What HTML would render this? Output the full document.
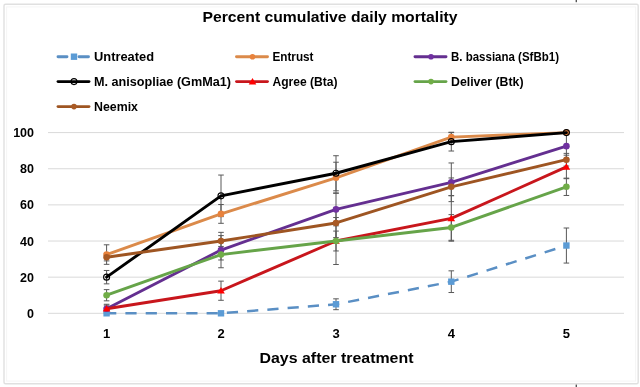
<!DOCTYPE html><html><head><meta charset="utf-8"><style>html,body{margin:0;padding:0;background:#fff;}svg{display:block;filter:blur(0.3px);}text{font-family:"Liberation Sans",sans-serif;font-weight:bold;fill:#000;}</style></head><body>
<svg width="640" height="387" viewBox="0 0 640 387">
<rect x="0" y="0" width="640" height="387" fill="#fff"/>
<rect x="4" y="4.3" width="634.2" height="379.4" fill="none" stroke="#E0E0E0" stroke-width="1.4" rx="1.5"/><rect x="6.6" y="6.9" width="629" height="374.2" fill="none" stroke="#F5F5F5" stroke-width="1"/>
<line x1="48" y1="313.30" x2="624" y2="313.30" stroke="#D9D9D9" stroke-width="1"/>
<line x1="48" y1="277.16" x2="624" y2="277.16" stroke="#D9D9D9" stroke-width="1"/>
<line x1="48" y1="241.02" x2="624" y2="241.02" stroke="#D9D9D9" stroke-width="1"/>
<line x1="48" y1="204.88" x2="624" y2="204.88" stroke="#D9D9D9" stroke-width="1"/>
<line x1="48" y1="168.74" x2="624" y2="168.74" stroke="#D9D9D9" stroke-width="1"/>
<line x1="48" y1="132.60" x2="624" y2="132.60" stroke="#D9D9D9" stroke-width="1"/>
<text x="34" y="317.80" font-size="12.5" text-anchor="end">0</text>
<text x="34" y="281.66" font-size="12.5" text-anchor="end">20</text>
<text x="34" y="245.52" font-size="12.5" text-anchor="end">40</text>
<text x="34" y="209.38" font-size="12.5" text-anchor="end">60</text>
<text x="34" y="173.24" font-size="12.5" text-anchor="end">80</text>
<text x="34" y="137.10" font-size="12.5" text-anchor="end">100</text>
<text x="106.60" y="337.5" font-size="13" text-anchor="middle">1</text>
<text x="221.00" y="337.5" font-size="13" text-anchor="middle">2</text>
<text x="336.00" y="337.5" font-size="13" text-anchor="middle">3</text>
<text x="451.30" y="337.5" font-size="13" text-anchor="middle">4</text>
<text x="566.40" y="337.5" font-size="13" text-anchor="middle">5</text>
<text x="202.5" y="22" font-size="15" textLength="255" lengthAdjust="spacingAndGlyphs">Percent cumulative daily mortality</text>
<text x="259.5" y="363.4" font-size="15" textLength="154" lengthAdjust="spacingAndGlyphs">Days after treatment</text>
<path d="M336.00,298.84V309.69M333.20,298.84H338.80M333.20,309.69H338.80" stroke="#595959" stroke-width="1" fill="none"/>
<path d="M451.30,270.84V292.52M448.50,270.84H454.10M448.50,292.52H454.10" stroke="#595959" stroke-width="1" fill="none"/>
<path d="M566.40,228.01V263.07M563.60,228.01H569.20M563.60,263.07H569.20" stroke="#595959" stroke-width="1" fill="none"/>
<path d="M106.60,244.81V264.33M103.80,244.81H109.40M103.80,264.33H109.40" stroke="#595959" stroke-width="1" fill="none"/>
<path d="M221.00,204.52V223.31M218.20,204.52H223.80M218.20,223.31H223.80" stroke="#595959" stroke-width="1" fill="none"/>
<path d="M336.00,162.23V193.32M333.20,162.23H338.80M333.20,193.32H338.80" stroke="#595959" stroke-width="1" fill="none"/>
<path d="M451.30,132.60V141.64M448.50,132.60H454.10M448.50,141.64H454.10" stroke="#595959" stroke-width="1" fill="none"/>
<path d="M106.60,305.17V312.40M103.80,305.17H109.40M103.80,312.40H109.40" stroke="#595959" stroke-width="1" fill="none"/>
<path d="M221.00,232.35V267.76M218.20,232.35H223.80M218.20,267.76H223.80" stroke="#595959" stroke-width="1" fill="none"/>
<path d="M336.00,192.95V225.84M333.20,192.95H338.80M333.20,225.84H338.80" stroke="#595959" stroke-width="1" fill="none"/>
<path d="M451.30,162.96V201.63M448.50,162.96H454.10M448.50,201.63H454.10" stroke="#595959" stroke-width="1" fill="none"/>
<path d="M566.40,132.96V159.34M563.60,132.96H569.20M563.60,159.34H569.20" stroke="#595959" stroke-width="1" fill="none"/>
<path d="M106.60,270.47V283.85M103.80,270.47H109.40M103.80,283.85H109.40" stroke="#595959" stroke-width="1" fill="none"/>
<path d="M221.00,175.06V216.63M218.20,175.06H223.80M218.20,216.63H223.80" stroke="#595959" stroke-width="1" fill="none"/>
<path d="M336.00,155.73V190.79M333.20,155.73H338.80M333.20,190.79H338.80" stroke="#595959" stroke-width="1" fill="none"/>
<path d="M451.30,132.24V151.03M448.50,132.24H454.10M448.50,151.03H454.10" stroke="#595959" stroke-width="1" fill="none"/>
<path d="M106.60,304.26V313.30M103.80,304.26H109.40M103.80,313.30H109.40" stroke="#595959" stroke-width="1" fill="none"/>
<path d="M221.00,281.14V300.29M218.20,281.14H223.80M218.20,300.29H223.80" stroke="#595959" stroke-width="1" fill="none"/>
<path d="M336.00,217.53V264.51M333.20,217.53H338.80M333.20,264.51H338.80" stroke="#595959" stroke-width="1" fill="none"/>
<path d="M451.30,195.66V241.20M448.50,195.66H454.10M448.50,241.20H454.10" stroke="#595959" stroke-width="1" fill="none"/>
<path d="M566.40,155.19V178.68M563.60,155.19H569.20M563.60,178.68H569.20" stroke="#595959" stroke-width="1" fill="none"/>
<path d="M106.60,289.63V300.83M103.80,289.63H109.40M103.80,300.83H109.40" stroke="#595959" stroke-width="1" fill="none"/>
<path d="M221.00,249.15V259.99M218.20,249.15H223.80M218.20,259.99H223.80" stroke="#595959" stroke-width="1" fill="none"/>
<path d="M336.00,231.08V250.96M333.20,231.08H338.80M333.20,250.96H338.80" stroke="#595959" stroke-width="1" fill="none"/>
<path d="M451.30,214.64V240.30M448.50,214.64H454.10M448.50,240.30H454.10" stroke="#595959" stroke-width="1" fill="none"/>
<path d="M566.40,178.14V195.48M563.60,178.14H569.20M563.60,195.48H569.20" stroke="#595959" stroke-width="1" fill="none"/>
<path d="M106.60,253.67V260.90M103.80,253.67H109.40M103.80,260.90H109.40" stroke="#595959" stroke-width="1" fill="none"/>
<path d="M221.00,235.60V246.44M218.20,235.60H223.80M218.20,246.44H223.80" stroke="#595959" stroke-width="1" fill="none"/>
<path d="M336.00,208.31V237.59M333.20,208.31H338.80M333.20,237.59H338.80" stroke="#595959" stroke-width="1" fill="none"/>
<path d="M451.30,177.96V195.66M448.50,177.96H454.10M448.50,195.66H454.10" stroke="#595959" stroke-width="1" fill="none"/>
<path d="M566.40,153.38V166.03M563.60,153.38H569.20M563.60,166.03H569.20" stroke="#595959" stroke-width="1" fill="none"/>
<polyline points="106.60,313.30 221.00,313.30 336.00,304.26 451.30,281.68 566.40,245.54" fill="none" stroke="#5A8FC4" stroke-width="2.5" stroke-linejoin="round" stroke-dasharray="11.2 9.1" stroke-dashoffset="1.5"/>
<rect x="103.40" y="310.10" width="6.4" height="6.4" fill="#5B9BD5"/>
<rect x="217.80" y="310.10" width="6.4" height="6.4" fill="#5B9BD5"/>
<rect x="332.80" y="301.06" width="6.4" height="6.4" fill="#5B9BD5"/>
<rect x="448.10" y="278.48" width="6.4" height="6.4" fill="#5B9BD5"/>
<rect x="563.20" y="242.34" width="6.4" height="6.4" fill="#5B9BD5"/>
<polyline points="106.60,254.57 221.00,213.91 336.00,177.78 451.30,137.12 566.40,132.60" fill="none" stroke="#DB8A4A" stroke-width="2.9" stroke-linejoin="round" stroke-linecap="round"/>
<circle cx="106.60" cy="254.57" r="3.3" fill="#E8823C"/>
<circle cx="221.00" cy="213.91" r="3.3" fill="#E8823C"/>
<circle cx="336.00" cy="177.78" r="3.3" fill="#E8823C"/>
<circle cx="451.30" cy="137.12" r="3.3" fill="#E8823C"/>
<circle cx="566.40" cy="132.60" r="3.3" fill="#E8823C"/>
<polyline points="106.60,308.78 221.00,250.06 336.00,209.40 451.30,182.29 566.40,146.15" fill="none" stroke="#642F90" stroke-width="2.9" stroke-linejoin="round" stroke-linecap="round"/>
<circle cx="106.60" cy="308.78" r="3.3" fill="#7030A0"/>
<circle cx="221.00" cy="250.06" r="3.3" fill="#7030A0"/>
<circle cx="336.00" cy="209.40" r="3.3" fill="#7030A0"/>
<circle cx="451.30" cy="182.29" r="3.3" fill="#7030A0"/>
<circle cx="566.40" cy="146.15" r="3.3" fill="#7030A0"/>
<polyline points="106.60,277.16 221.00,195.84 336.00,173.26 451.30,141.64 566.40,132.60" fill="none" stroke="#000000" stroke-width="2.9" stroke-linejoin="round" stroke-linecap="round"/>
<circle cx="106.60" cy="277.16" r="3" fill="none" stroke="#000" stroke-width="1.1"/>
<circle cx="221.00" cy="195.84" r="3" fill="none" stroke="#000" stroke-width="1.1"/>
<circle cx="336.00" cy="173.26" r="3" fill="none" stroke="#000" stroke-width="1.1"/>
<circle cx="451.30" cy="141.64" r="3" fill="none" stroke="#000" stroke-width="1.1"/>
<circle cx="566.40" cy="132.60" r="3" fill="none" stroke="#000" stroke-width="1.1"/>
<polyline points="106.60,308.78 221.00,290.71 336.00,241.02 451.30,218.43 566.40,166.93" fill="none" stroke="#C8161C" stroke-width="2.9" stroke-linejoin="round" stroke-linecap="round"/>
<path d="M106.60,305.18 L110.40,311.58 L102.80,311.58 Z" fill="#FF0000"/>
<path d="M221.00,287.11 L224.80,293.51 L217.20,293.51 Z" fill="#FF0000"/>
<path d="M336.00,237.42 L339.80,243.82 L332.20,243.82 Z" fill="#FF0000"/>
<path d="M451.30,214.83 L455.10,221.23 L447.50,221.23 Z" fill="#FF0000"/>
<path d="M566.40,163.33 L570.20,169.73 L562.60,169.73 Z" fill="#FF0000"/>
<polyline points="106.60,295.23 221.00,254.57 336.00,241.02 451.30,227.47 566.40,186.81" fill="none" stroke="#66A449" stroke-width="2.9" stroke-linejoin="round" stroke-linecap="round"/>
<circle cx="106.60" cy="295.23" r="3.3" fill="#70AD47"/>
<circle cx="221.00" cy="254.57" r="3.3" fill="#70AD47"/>
<circle cx="336.00" cy="241.02" r="3.3" fill="#70AD47"/>
<circle cx="451.30" cy="227.47" r="3.3" fill="#70AD47"/>
<circle cx="566.40" cy="186.81" r="3.3" fill="#70AD47"/>
<polyline points="106.60,257.28 221.00,241.02 336.00,222.95 451.30,186.81 566.40,159.70" fill="none" stroke="#9E5522" stroke-width="2.9" stroke-linejoin="round" stroke-linecap="round"/>
<circle cx="106.60" cy="257.28" r="3.3" fill="#A95A25"/>
<circle cx="221.00" cy="241.02" r="3.3" fill="#A95A25"/>
<circle cx="336.00" cy="222.95" r="3.3" fill="#A95A25"/>
<circle cx="451.30" cy="186.81" r="3.3" fill="#A95A25"/>
<circle cx="566.40" cy="159.70" r="3.3" fill="#A95A25"/>
<path d="M58.0,56.7H67.0M79.0,56.7H88.5" stroke="#5A8FC4" stroke-width="2.9" stroke-linecap="round"/>
<rect x="70.80" y="53.50" width="6.4" height="6.4" fill="#5B9BD5"/>
<text x="94.0" y="61.00" font-size="12" textLength="60" lengthAdjust="spacingAndGlyphs">Untreated</text>
<line x1="236.5" y1="56.7" x2="267.5" y2="56.7" stroke="#DB8A4A" stroke-width="2.9" stroke-linecap="round"/>
<circle cx="252.50" cy="56.70" r="2.8" fill="#E8823C"/>
<text x="272.5" y="61.00" font-size="12" textLength="41" lengthAdjust="spacingAndGlyphs">Entrust</text>
<line x1="415.0" y1="56.7" x2="446.0" y2="56.7" stroke="#642F90" stroke-width="2.9" stroke-linecap="round"/>
<circle cx="431.00" cy="56.70" r="2.8" fill="#7030A0"/>
<text x="451.0" y="61.00" font-size="12" textLength="108" lengthAdjust="spacingAndGlyphs">B. bassiana (SfBb1)</text>
<line x1="58.0" y1="81.6" x2="89.0" y2="81.6" stroke="#000000" stroke-width="2.9" stroke-linecap="round"/>
<circle cx="74.00" cy="81.60" r="3" fill="none" stroke="#000" stroke-width="1.1"/>
<text x="94.0" y="85.90" font-size="12" textLength="137" lengthAdjust="spacingAndGlyphs">M. anisopliae (GmMa1)</text>
<line x1="236.5" y1="81.6" x2="267.5" y2="81.6" stroke="#C8161C" stroke-width="2.9" stroke-linecap="round"/>
<path d="M252.50,78.00 L256.30,84.40 L248.70,84.40 Z" fill="#FF0000"/>
<text x="272.5" y="85.90" font-size="12" textLength="65" lengthAdjust="spacingAndGlyphs">Agree (Bta)</text>
<line x1="415.0" y1="81.6" x2="446.0" y2="81.6" stroke="#66A449" stroke-width="2.9" stroke-linecap="round"/>
<circle cx="431.00" cy="81.60" r="2.8" fill="#70AD47"/>
<text x="451.0" y="85.90" font-size="12" textLength="72.5" lengthAdjust="spacingAndGlyphs">Deliver (Btk)</text>
<line x1="58.0" y1="106.6" x2="89.0" y2="106.6" stroke="#9E5522" stroke-width="2.9" stroke-linecap="round"/>
<circle cx="74.00" cy="106.60" r="2.8" fill="#A95A25"/>
<text x="94.0" y="110.90" font-size="12" textLength="44" lengthAdjust="spacingAndGlyphs">Neemix</text>
<rect x="575.6" y="0" width="1.4" height="2.2" fill="#555"/><rect x="575.6" y="384.6" width="1.4" height="2.4" fill="#555"/>
</svg></body></html>
